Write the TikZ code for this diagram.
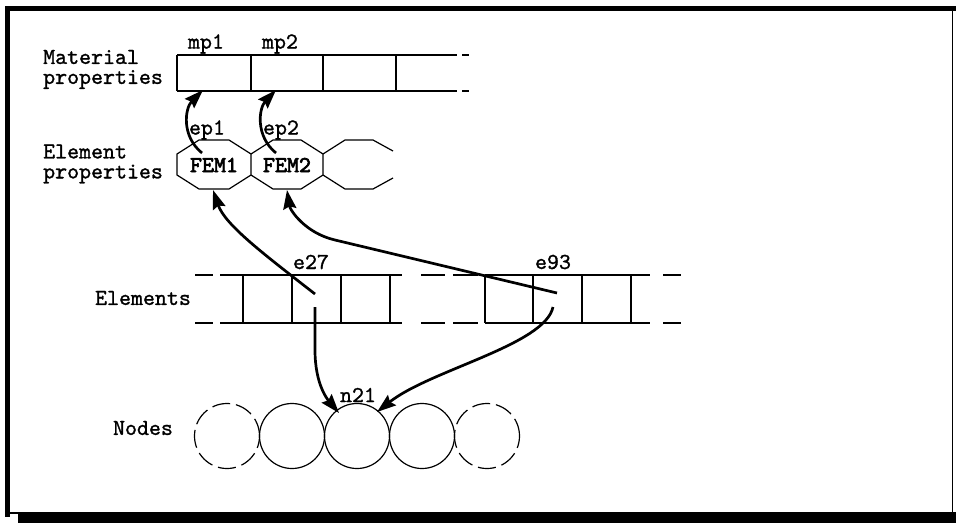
\documentclass[tikz,border=0pt]{standalone}
\usepackage{fontspec}
\newfontfamily\lblfont{lmmono10-regular.otf}[FakeBold=1.2]
\newfontfamily\femfont{lmmono10-regular.otf}[FakeBold=3]
\usetikzlibrary{arrows.meta,shapes.geometric}
\begin{document}
\begin{tikzpicture}[x=1pt,y=-1pt,
  thinl/.style={line width=1.2pt},
  arr/.style={line width=2.7pt,-{Stealth[length=19pt,width=13pt,inset=2.5pt]}},
  lbl/.style={font=\lblfont\fontsize{22.8}{18}\selectfont,inner sep=0pt},
  bl/.style={font=\femfont\fontsize{22.8}{18}\selectfont,inner sep=0pt},
  circ/.style={circle,draw,thinl,minimum size=65pt,inner sep=0pt},
  dcirc/.style={circ,dash pattern=on 18pt off 6pt}]
\useasboundingbox (0,0) rectangle (956,523);
% frame
\fill[black] (5,6) rectangle (956,11);
\fill[black] (5,6) rectangle (10,517);
\draw[line width=1pt] (952,8) -- (952,514);
\draw[line width=1.5pt] (8,513) -- (956,513);
\fill[black] (18,514) rectangle (956,523);

% labels
\node[lbl,anchor=west] (matlbl) at (43,57) {Material};
\node[lbl,anchor=west] (matlbl2) at (43,79.5) {properties};
\node[lbl,anchor=west] (ellbl) at (43,151.5) {Element};
\node[lbl,anchor=west] (ellbl2) at (43,174) {properties};
\node[lbl] (elslbl) at (143,298) {Elements};
\node[lbl] (nodlbl) at (143,428) {Nodes};

% material array
\draw[thinl] (177,55) -- (457,55) (177,91) -- (457,91);
\draw[thinl] (462,55) -- (469,55) (462,91) -- (469,91);
\foreach \x in {177,251,323,396} \draw[thinl] (\x,55) -- (\x,91);
\node[lbl] (mp1) at (206,44) {mp1};
\node[lbl] (mp2) at (280,44) {mp2};
\coordinate (mp1t) at (203,90);
\coordinate (mp2t) at (276,90);

% element properties octagons
\draw[thinl] (177,154) -- (199,140) -- (229,140) -- (251,154) -- (251,175) -- (229,189) -- (199,189) -- (177,175) -- cycle;
\draw[thinl] (251,154) -- (273,140) -- (301,140) -- (323,154) -- (323,175) -- (301,189) -- (273,189) -- (251,175);
\draw[thinl] (323,154) -- (345,140) -- (373,140) -- (393,151);
\draw[thinl] (323,175) -- (345,189) -- (373,189) -- (393,178);
\node[bl] (fem1) at (214,165) {FEM1};
\node[bl] (fem2) at (287,165) {FEM2};
\node[lbl] (ep1) at (207,130) {ep1};
\node[lbl] (ep2) at (281,130) {ep2};
\coordinate (ep1s) at (202,153);
\coordinate (ep2s) at (276,153);
\coordinate (fem1b) at (213,190);
\coordinate (fem2b) at (287,190);

% elements array
\foreach \a/\b in {195/213,220/402,421/445,453/478,485/650,663/681}
  \draw[thinl] (\a,275) -- (\b,275) (\a,323) -- (\b,323);
\foreach \x in {243,292,341,390,485,533,582,631} \draw[thinl] (\x,275) -- (\x,323);
\node[lbl] (e27) at (311,262) {e27};
\node[lbl] (e93) at (553,262) {e93};
\coordinate (e27u) at (315,294);
\coordinate (e27d) at (315,307);
\coordinate (e93u) at (557,293);
\coordinate (e93d) at (553,307);
\coordinate (e93k) at (335,240);
\coordinate (e27k) at (315,350);

% nodes
\node[dcirc] (c1) at (227,436) {};
\node[circ] (c2) at (292,436) {};
\node[circ] (c3) at (357,436) {};
\node[circ] (c4) at (422,436) {};
\node[dcirc] (c5) at (487,436) {};
\node[lbl] (n21) at (358,395) {n21};
\coordinate (n21a) at (339,413);
\coordinate (n21b) at (377,412);

% arrows
\draw[arr] (ep1s) .. controls (181,136) and (185,108) .. (mp1t);
\draw[arr] (ep2s) .. controls (255,136) and (259,108) .. (mp2t);
\draw[arr] (e27u) .. controls (265,255) and (225,225) .. (fem1b);
\draw[arr] (e93u) -- (e93k) .. controls (305,233) and (290,210) .. (fem2b);
\draw[arr] (e27d) -- (e27k) .. controls (315,385) and (328,400) .. (n21a);
\draw[arr] (e93d) .. controls (545,345) and (430,370) .. (n21b);
\end{tikzpicture}
\end{document}
